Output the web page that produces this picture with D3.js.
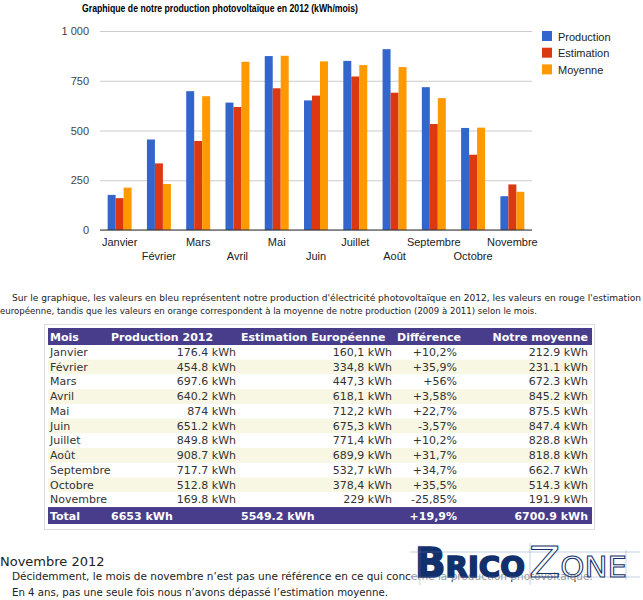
<!DOCTYPE html>
<html>
<head>
<meta charset="utf-8">
<script src="https://cdn.jsdelivr.net/npm/d3@7"></script>
<style>
  body { margin: 0; background: #fff; }
  svg { display: block; }
</style>
</head>
<body>
<div id="page"></div>
<script>
var months = ["Janvier", "Février", "Mars", "Avril", "Mai", "Juin", "Juillet", "Août", "Septembre", "Octobre", "Novembre"];
var series = ["Production", "Estimation", "Moyenne"];
var production = [176.4, 454.8, 697.6, 640.2, 874, 651.2, 849.8, 908.7, 717.7, 512.8, 169.8];
var estimation = [160.1, 334.8, 447.3, 618.1, 712.2, 675.3, 771.4, 689.9, 532.7, 378.4, 229];
var moyenne = [212.9, 231.1, 672.3, 845.2, 875.5, 847.4, 828.8, 818.8, 662.7, 514.3, 191.9];
var difference = ["+10,2%", "+35,9%", "+56%", "+3,58%", "+22,7%", "-3,57%", "+10,2%", "+31,7%", "+34,7%", "+35,5%", "-25,85%"];
var yTicks = [0, 250, 500, 750, 1000];
var headers = ["Mois", "Production 2012", "Estimation Européenne", "Différence", "Notre moyenne"];
var totals = ["Total", "6653 kWh", "5549.2 kWh", "+19,9%", "6700.9 kWh"];
var colors = ["#3366cc", "#dc3912", "#ff9900"];

var W = 643, H = 600;
var svg = d3.select("#page").append("svg").attr("width", W).attr("height", H);

/////////////////////////////// chart ///////////////////////////////
var plot = {left: 100, right: 532, top: 31, bottom: 230};
var fr = d3.formatLocale({decimal: ",", thousands: " ", grouping: [3], currency: ["", "€"]});

svg.append("text")
  .attr("x", 82).attr("y", 12)
  .attr("textLength", 276).attr("lengthAdjust", "spacingAndGlyphs")
  .style("font-family", "'Liberation Sans', Arial, sans-serif")
  .style("font-weight", "bold").style("font-size", "11.5px").style("fill", "#000")
  .text("Graphique de notre production photovoltaïque en 2012 (kWh/mois)");

var y = d3.scaleLinear().domain([0, 1000]).range([plot.bottom, plot.top]);
var x0 = d3.scaleBand().domain(months).range([plot.left, plot.right]).paddingInner(0.39).paddingOuter(0.195);
var x1 = d3.scaleBand().domain(series).range([0, x0.bandwidth()]);

// gridlines + y labels
var yAxis = svg.append("g")
  .attr("transform", "translate(" + plot.left + ",0)")
  .call(d3.axisLeft(y).tickValues(yTicks).tickSize(-(plot.right - plot.left)).tickPadding(11).tickFormat(fr.format(",")));
yAxis.select(".domain").remove();
yAxis.selectAll(".tick line").attr("stroke", "#cccccc");
yAxis.selectAll(".tick text")
  .style("font-family", "'Liberation Sans', Arial, sans-serif").style("font-size", "11px").attr("fill", "#444");

var rows = [production, estimation, moyenne];

svg.append("g").selectAll("g")
  .data(months)
  .enter().append("g")
    .attr("transform", function (d) { return "translate(" + x0(d) + ",0)"; })
  .selectAll("rect")
  .data(function (d, i) { return series.map(function (s, k) { return {s: s, v: rows[k][i], k: k}; }); })
  .enter().append("rect")
    .attr("x", function (d) { return x1(d.s); })
    .attr("width", x1.bandwidth())
    .attr("y", function (d) { return y(d.v); })
    .attr("height", function (d) { return y(0) - y(d.v); })
    .attr("fill", function (d) { return colors[d.k]; });

// baseline
svg.append("line")
  .attr("x1", plot.left).attr("x2", plot.right)
  .attr("y1", y(0)).attr("y2", y(0))
  .attr("stroke", "#333").attr("stroke-width", 1);

// x labels, staggered on two rows
svg.append("g").selectAll("text")
  .data(months)
  .enter().append("text")
    .attr("x", function (d) { return x0(d) + x0.bandwidth() / 2; })
    .attr("y", function (d, i) { return i % 2 === 0 ? 246 : 260; })
    .attr("text-anchor", "middle")
    .style("font-family", "'Liberation Sans', Arial, sans-serif").style("font-size", "11px").attr("fill", "#222")
    .text(function (d) { return d; });

// legend
var leg = svg.append("g").selectAll("g")
  .data(series)
  .enter().append("g")
    .attr("transform", function (d, i) { return "translate(542," + (31 + i * 16.7) + ")"; });
leg.append("rect").attr("width", 10).attr("height", 10).attr("fill", function (d, i) { return colors[i]; });
leg.append("text").attr("x", 16).attr("y", 9.5)
  .style("font-family", "'Liberation Sans', Arial, sans-serif").style("font-size", "11px").attr("fill", "#222")
  .text(function (d) { return d; });

/////////////////////////////// paragraph ///////////////////////////////
var para = [
  {x: 12, y: 301, w: 629, t: "Sur le graphique, les valeurs en bleu représentent notre production d'électricité photovoltaïque en 2012, les valeurs en rouge l'estimation"},
  {x: 0, y: 314, w: 537, t: "européenne, tandis que les valeurs en orange correspondent à la moyenne de notre production (2009 à 2011) selon le mois."}
];
svg.append("g").selectAll("text")
  .data(para)
  .enter().append("text")
    .attr("x", function (d) { return d.x; }).attr("y", function (d) { return d.y; })
    .attr("textLength", function (d) { return d.w; }).attr("lengthAdjust", "spacingAndGlyphs")
    .style("font-family", "'DejaVu Sans', Verdana, sans-serif").style("font-size", "9px").attr("fill", "#222")
    .text(function (d) { return d.t; });

/////////////////////////////// table ///////////////////////////////
var tb = {left: 48, right: 592, headTop: 328, headH: 17, rowH: 14.73};
var colEdge = [{x: 50, a: "start"}, {x: 236, a: "end"}, {x: 392, a: "end"}, {x: 457, a: "end"}, {x: 588, a: "end"}];
var headX = [{x: 50, a: "start"}, {x: 111, a: "start"}, {x: 241, a: "start"}, {x: 397, a: "start"}, {x: 588, a: "end"}];
var totX = [{x: 50, a: "start"}, {x: 111, a: "start"}, {x: 241, a: "start"}, {x: 457, a: "end"}, {x: 588, a: "end"}];
var font = "'DejaVu Sans', Verdana, sans-serif";

svg.append("rect").attr("x", 44.5).attr("y", 324.5).attr("width", 550).attr("height", 205)
  .attr("fill", "none").attr("stroke", "#dddddd");

var bodyTop = tb.headTop + tb.headH;
var totalTop = bodyTop + months.length * tb.rowH;

svg.append("rect").attr("x", tb.left).attr("y", tb.headTop).attr("width", tb.right - tb.left).attr("height", tb.headH).attr("fill", "#483d8b");
svg.append("rect").attr("x", tb.left).attr("y", totalTop).attr("width", tb.right - tb.left).attr("height", tb.headH).attr("fill", "#483d8b");

function kwh(v, comma) {
  var s = String(v);
  return (comma ? s.replace(".", ",") : s) + " kWh";
}
var tableRows = months.map(function (m, i) {
  return [m, kwh(production[i]), kwh(estimation[i], true), difference[i], kwh(moyenne[i])];
});

svg.append("g").selectAll("rect")
  .data(tableRows)
  .enter().append("rect")
    .attr("x", tb.left).attr("width", tb.right - tb.left)
    .attr("y", function (d, i) { return bodyTop + i * tb.rowH; })
    .attr("height", tb.rowH)
    .attr("fill", function (d, i) { return i % 2 === 1 ? "#f7f7e4" : "#fff"; });

svg.append("g").selectAll("text")
  .data(headers)
  .enter().append("text")
    .attr("x", function (d, i) { return headX[i].x; })
    .attr("text-anchor", function (d, i) { return headX[i].a; })
    .attr("y", tb.headTop + 12.5)
    .style("font-family", font).style("font-weight", "bold").style("font-size", "11px").attr("fill", "#fff")
    .text(function (d) { return d; });

svg.append("g").selectAll("text")
  .data(totals)
  .enter().append("text")
    .attr("x", function (d, i) { return totX[i].x; })
    .attr("text-anchor", function (d, i) { return totX[i].a; })
    .attr("y", totalTop + 12.5)
    .style("font-family", font).style("font-weight", "bold").style("font-size", "11px").attr("fill", "#fff")
    .text(function (d) { return d; });

var rowG = svg.append("g").selectAll("g")
  .data(tableRows)
  .enter().append("g")
    .attr("transform", function (d, i) { return "translate(0," + (bodyTop + i * tb.rowH + 11) + ")"; });
rowG.selectAll("text")
  .data(function (d) { return d; })
  .enter().append("text")
    .attr("x", function (d, i) { return colEdge[i].x; })
    .attr("text-anchor", function (d, i) { return colEdge[i].a; })
    .style("font-family", font).style("font-size", "11px").attr("fill", "#333")
    .text(function (d) { return d; });

/////////////////////////////// footer text ///////////////////////////////
svg.append("text").attr("x", 0).attr("y", 566)
  .style("font-family", font).style("font-size", "13px").attr("fill", "#222")
  .text("Novembre 2012");
svg.append("text").attr("x", 12).attr("y", 580)
  .style("font-family", font).style("font-size", "10.5px").attr("fill", "#222")
  .text("Décidemment, le mois de novembre n’est pas une référence en ce qui concerne la production photovoltaïque.");
svg.append("text").attr("x", 12).attr("y", 596)
  .attr("textLength", 376).attr("lengthAdjust", "spacingAndGlyphs")
  .style("font-family", font).style("font-size", "10.5px").attr("fill", "#222")
  .text("En 4 ans, pas une seule fois nous n’avons dépassé l’estimation moyenne.");

// logo (watermark laid over the text)
var logo = svg.append("g");
logo.append("rect").attr("x", 412).attr("y", 546).attr("width", 220).attr("height", 34)
  .attr("fill", "#fff").attr("opacity", 0.55);
logo.append("text").attr("x", 415).attr("y", 577)
  .style("font-family", "'DejaVu Sans', sans-serif").style("font-weight", "bold")
  .attr("fill", "#12306b").attr("stroke", "#12306b").attr("stroke-width", 1.6)
  .html("<tspan style='font-size:40px'>B</tspan><tspan style='font-size:29px'>RICO</tspan>")
  .attr("textLength", 110).attr("lengthAdjust", "spacingAndGlyphs");
logo.append("text").attr("x", 529).attr("y", 577)
  .style("font-family", "'DejaVu Sans', sans-serif").attr("fill", "none").attr("stroke", "#12306b").attr("stroke-width", 1)
  .html("<tspan style='font-size:43px'>Z</tspan><tspan style='font-size:29px'>ONE</tspan>")
  .attr("textLength", 98).attr("lengthAdjust", "spacingAndGlyphs");
[[410, 552, 640, 552], [410, 577, 640, 577], [420, 545, 420, 585], [530, 543, 530, 585], [626, 550, 626, 580]].forEach(function (l) {
  logo.append("line").attr("x1", l[0]).attr("y1", l[1]).attr("x2", l[2]).attr("y2", l[3])
    .attr("stroke", "#6a7fb0").attr("stroke-width", 0.6).attr("opacity", 0.6);
});
</script>
</body>
</html>
